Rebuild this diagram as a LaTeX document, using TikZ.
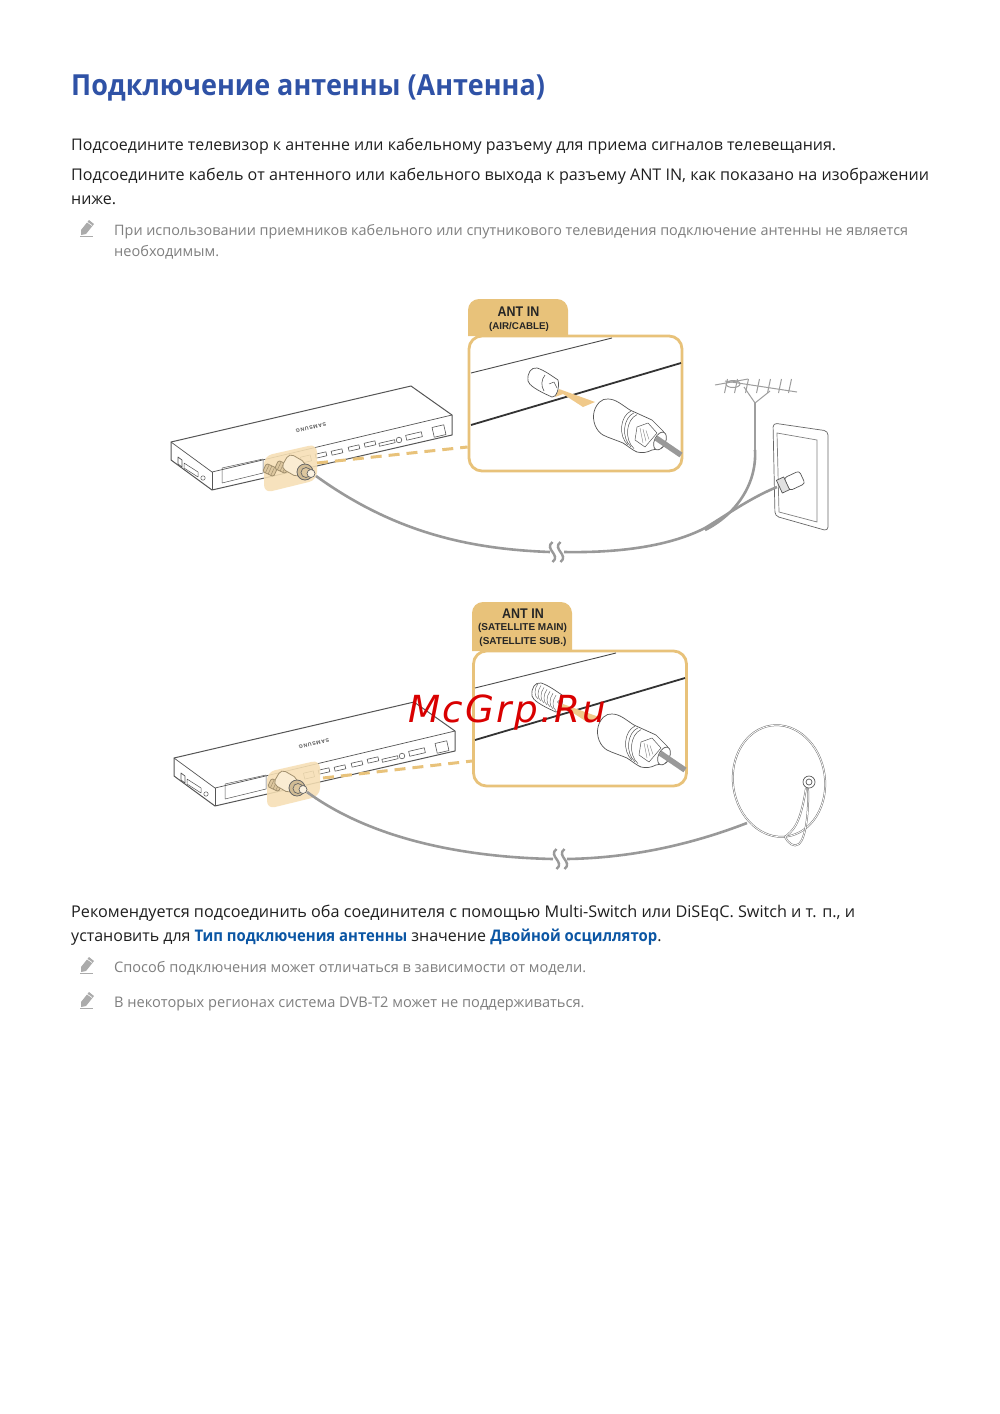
\documentclass[tikz,border=0pt]{standalone}
\usepackage{fontspec}
\setmainfont[BoldFeatures={FakeStretch=0.93}]{Open Sans}
\newfontfamily\helv{Liberation Sans}
\newfontfamily\helvn[FakeStretch=0.89]{Liberation Sans}
\newfontfamily\marca[LetterSpace=6]{DejaVu Sans}
\newfontfamily\sam[LetterSpace=14]{Liberation Sans}
\definecolor{naranja}{HTML}{E8C27A}
\definecolor{resalte}{HTML}{F6DFB4}
\definecolor{flecha}{HTML}{F0C98A}
\definecolor{cable}{HTML}{999999}
\definecolor{linea}{HTML}{555555}
\definecolor{titulo}{HTML}{2F52A6}
\definecolor{enlace}{HTML}{0B56A4}
\definecolor{gris}{HTML}{7F7F7F}
\definecolor{tostado}{HTML}{A2906E}
\begin{document}
\begin{tikzpicture} %Pagina
  [
    x=1pt, y=-1pt,
    % Estilos de textos y lineas
    tit/.style={anchor=base west, inner sep=0pt, font=\fontsize{29}{30}\selectfont\bfseries, text=titulo},
    body/.style={anchor=base west, inner sep=0pt, font=\fontsize{16}{20}\selectfont, text=black!88},
    nota/.style={anchor=base west, inner sep=0pt, font=\fontsize{14.55}{20}\selectfont, text=gris},
    tab/.style={inner sep=0pt, align=center, font=\helv\bfseries, text=black!85},
    marco/.style={draw=naranja, line width=2.8pt, rounded corners=13pt, fill=white, minimum width=213pt, minimum height=135pt, inner sep=0pt},
    punteada/.style={draw=naranja, line width=3pt, dash pattern=on 11pt off 7pt},
    cab/.style={draw=cable, line width=2.6pt},
    fino/.style={draw=linea, line width=0.7pt, line join=round},
    hilo/.style={draw=black!38, line width=1pt},
    % La caja de conexiones
    caja/.pic={
      \path[fino, line width=1pt, fill=white] (171,442) -- (411,386) -- (452,415) -- (452,435) -- (212,490) -- (171,460) -- cycle;
      \draw[fino] (171,442) -- (212,472) -- (452,415);
      \draw[fino] (212,472) -- (212,490);
      \node[rotate=193.4, inner sep=0pt, text=linea, font=\sam\bfseries\fontsize{5.2}{6}\selectfont] (marcacaja) at (311,428) {SAMSUNG};
      \draw[fino, line width=.5pt] (222,468) -- (263,459) -- (263,473) -- (222,483) -- cycle;
      \foreach \px/\py in {321/455, 337/452, 354/448, 370/444}
        \draw[fino, line width=.6pt, rotate around={13:(\px,\py)}] (\px-5.5,\py-2) rectangle (\px+5.5,\py+2);
      \draw[fino, line width=.6pt, rotate around={13:(387,443)}] (379,441.5) rectangle (395,444.5);
      \draw[fino, line width=.6pt] (399,440) circle (2.8pt);
      \draw[fino, line width=.6pt, rotate around={13:(414,436)}] (406,433.5) rectangle (422,438.5);
      \draw[fino, line width=.6pt, rotate around={13:(439,431)}] (433,426) rectangle (445,436);
      \draw[fino, line width=.6pt, rotate around={13:(306,459)}] (301,456) rectangle (311,462);
      \draw[fino, line width=.7pt] (178,457) -- (182,460) -- (182,467) -- (178,464) -- cycle;
      \draw[fino, line width=.5pt] (184,463) -- (198,472) -- (198,477) -- (184,468) -- cycle;
      \draw[fino, line width=.5pt] (203,478) circle (2.2pt);
      \fill[resalte, fill opacity=.88, rounded corners=8pt] (264,456) -- (317,444) -- (317,480) -- (264,493) -- cycle;
    },
    % Conectores sobre la zona resaltada
    fmini/.pic={
      \draw[draw=tostado, line width=.8pt, fill=resalte!70!tostado, rotate=-25, rounded corners=1.5pt] (-6,-4.5) rectangle (6,4.5);
      \foreach \k in {-3,0,3}
        \draw[draw=tostado, line width=.5pt, rotate=-25] (\k,-4.5) -- (\k,4.5);
    },
    conector/.pic={
      \draw[draw=tostado, line width=.8pt, fill=resalte!60!white, rotate=-30, rounded corners=5pt] (-23,-8.5) rectangle (-3,8.5);
      \draw[draw=black!60, line width=.8pt, fill=resalte!55!tostado] (0,0) circle (8pt);
      \draw[draw=black!60, line width=.7pt, fill=resalte!70!tostado] (1,.5) circle (5pt);
      \draw[draw=black!60, line width=.7pt, fill=resalte!40!white] (6,1.5) circle (4pt);
    },
    % Vista ampliada, toma de salida
    vista/.pic={
      \draw[draw=black!70, line width=.9pt] (471,373) -- (612,338);
      \draw[draw=black!80, line width=1.8pt] (471,425) -- (681,363);
      \fill[flecha] (555,397) -- (559,389) -- (595,402) -- (583,407) -- (563,394) -- cycle;
    },
    hembra/.pic={
      \path[fino, fill=white] (537,368) .. controls (531,367) and (527,373) .. (528,381)
        .. controls (529,385) and (536,390) .. (552,397) .. controls (556,398) and (560,388) .. (558,380)
        .. controls (552,376) and (544,370) .. (537,368) -- cycle;
    },
    tomaa/.pic={
      \draw[fino, line width=.6pt] (545,375) .. controls (541,380) and (541,386) .. (544,391);
      \draw[fino, line width=.5pt] (549,384) -- (554,382) -- (557,388);
    },
    tomab/.pic={
      \foreach \k in {0,3,...,18}
        \draw[draw=black!55, line width=.5pt] (534+\k,368.5+.65*\k) .. controls (530+\k,374+.65*\k) and (530+\k,381+.65*\k) .. (534+\k,384+.65*\k);
      \draw[fino, line width=.5pt] (555,387) circle (1.5pt);
    },
    enchufe/.pic={
      \path[fino, fill=white] (594,412) .. controls (596,404) and (602,398) .. (608,399)
        .. controls (616,399) and (622,405) .. (630,410) -- (652,420) -- (663,431)
        .. controls (667,437) and (667,444) .. (662,448) -- (652,450)
        .. controls (646,453) and (642,453) .. (637,452)
        .. controls (632,450) and (628,446) .. (623,443)
        .. controls (616,440) and (609,438) .. (603,435)
        .. controls (596,431) and (592,421) .. (594,412) -- cycle;
      \foreach \k in {0,3,6}
        \draw[fino, line width=.5pt] (631+\k,411+.6*\k) .. controls (620+\k,416+.6*\k) and (618+\k,436+.6*\k) .. (628+\k,445+.6*\k);
      \draw[fino, line width=.5pt, fill=white] (637,427) -- (648,423) -- (657,433) -- (645,447) -- (635,440) -- cycle;
      \foreach \k in {0,3,6}
        \draw[draw=black!50, line width=.4pt] (640+\k,428+.4*\k) -- (643+\k,443-.6*\k);
      \draw[fino, fill=white, rotate around={-25:(660,441)}] (660,441) ellipse (5.5pt and 9.5pt);
    },
    % Cable cortado
    corte/.pic={
      \foreach \k in {-4,4}
        \draw[draw=cable, line width=2.4pt] (\k,-10) .. controls (\k-9,-3) and (\k+9,3) .. (\k,10);
    },
    % Lapiz de las notas
    lapiz/.pic={
      \fill[black!33] (-6,7) -- (-6,2) -- (2,-8) -- (7,-4) -- (-1,6) -- cycle;
      \draw[white, line width=.6pt] (0,-6) -- (5,-2.5);
      \draw[black!33, line width=.6pt] (-7,8.5) -- (6,8.5);
    }
  ]
  \path[fill=white, use as bounding box] (0,0) rectangle (1000,1414);

  % Textos de arriba
  \node[tit] (t1) at (71,95) {Подключение антенны (Антенна)};
  \node[body] (p1) at (71,150) {Подсоедините телевизор к антенне или кабельному разъему для приема сигналов телевещания.};
  \node[body, font=\fontsize{16.12}{20}\selectfont] (p2) at (71,180.5) {Подсоедините кабель от антенного или кабельного выхода к разъему ANT IN, как показано на изображении};
  \node[body] (p3) at (71,204) {ниже.};
  \pic at (87,228) {lapiz};
  \node[nota, font=\fontsize{14.39}{20}\selectfont] (n1) at (114,235) {При использовании приемников кабельного или спутникового телевидения подключение антенны не является};
  \node[nota] (n2) at (114,256) {необходимым.};

  %Imagen 1
  \pic at (0,0) {caja};
  \coordinate (d1) at (317,463);
  \node[marco] (zoom1) at (575.5,403.5) {};
  \draw[punteada] (d1) -- (zoom1.west |- 0,447);
  \pic at (270,470) {fmini};
  \pic at (282,467) {fmini};
  \pic at (305,472) {conector};
  \fill[naranja] (468,336) [rounded corners=11pt] -- (468,299) -- (568,299) [sharp corners] -- (568,336) -- cycle;
  \node[tab, font=\helvn\bfseries\fontsize{14}{15}\selectfont] (ant1) at (518.5,312) {ANT IN};
  \node[tab, font=\helv\bfseries\fontsize{9.8}{11}\selectfont] (air1) at (519,326.5) {(AIR/CABLE)};
  \pic at (0,0) {vista};
  \pic at (0,0) {hembra};
  \pic at (0,0) {tomaa};
  \pic at (0,0) {enchufe};
  \coordinate (in1) at (656,438);
  \coordinate (in2) at (681,455);
  \draw[cab, line width=5.5pt] (in1) -- (in2);
  % Antena y pared
  \draw[hilo] (715,385) -- (748,379);
  \draw[hilo] (725,381) -- (797,392);
  \draw[hilo] (733,384) ellipse (7pt and 3.5pt);
  \foreach \ax in {726,736,747,758,769,780,790}
    \draw[hilo] (\ax+1.5,379) -- (\ax-1.5,393);
  \coordinate (ant) at (755,403);
  \draw[hilo] (744,387) -- (ant) -- (770,391);
  \coordinate (m1) at (755,450);
  \draw[hilo, line width=1.3pt] (ant) -- (m1);
  \path[fino, draw=black!60, fill=white, rounded corners=4pt] (773,423) -- (828,431) -- (828,531) -- (775,516) -- cycle;
  \draw[draw=black!50, line width=.7pt] (777,433) -- (817,440) -- (817,522) -- (779,512) -- cycle;
  \coordinate (wall) at (777,487);
  \coordinate (c1) at (316,476);
  \coordinate (c2) at (550,552);
  \coordinate (c3) at (564,552);
  \coordinate (c4) at (705,530);
  \draw[cab] (c1) .. controls (395,533) and (470,549) .. (c2);
  \draw[cab] (c3) .. controls (620,553) and (670,546) .. (705,528) .. controls (725,516) and (750,498) .. (wall);
  \draw[cab] (m1) .. controls (757,485) and (735,515) .. (c4);
  \pic at (556.5,552) {corte};
  \draw[fino, line width=.7pt, fill=white, rounded corners=3pt, rotate around={25:(794,481)}] (786,474) rectangle (803,488);
  \draw[fino, fill=black!12, rotate around={25:(783,485)}] (779,478) rectangle (787,492);

  %Imagen 2
  \begin{scope}[shift={(3,316)}]
    \pic at (0,0) {caja};
  \end{scope}
  \coordinate (d2) at (323,778);
  \node[marco] (zoom2) at (580,718.5) {};
  \draw[punteada] (d2) -- (zoom2.west |- 0,761);
  \pic at (275,785) {fmini};
  \pic at (297,788) {conector};
  \fill[naranja] (472,651) [rounded corners=11pt] -- (472,602) -- (572,602) [sharp corners] -- (572,651) -- cycle;
  \node[tab, font=\helvn\bfseries\fontsize{14}{15}\selectfont] (ant2) at (523,613.5) {ANT IN};
  \node[tab, font=\helv\bfseries\fontsize{10}{11}\selectfont] (sat1) at (522.5,628) {(SATELLITE MAIN)};
  \node[tab, font=\helv\bfseries\fontsize{10}{11}\selectfont] (sat2) at (523,642) {(SATELLITE SUB.)};
  \begin{scope}[shift={(4,315)}]
    \pic at (0,0) {vista};
    \pic at (0,0) {hembra};
    \pic at (0,0) {tomab};
    \pic at (0,0) {enchufe};
    \coordinate (in3) at (656,438);
    \coordinate (in4) at (681,455);
  \end{scope}
  \draw[cab, line width=5.5pt] (in3) -- (in4);
  % Antena parabolica
  \draw[draw=black!55, line width=1.8pt, rotate around={8:(779,781)}] (779,781) ellipse (46pt and 56pt);
  \draw[draw=white, line width=.8pt, rotate around={8:(779,781)}] (779,781) ellipse (46pt and 56pt);
  \draw[draw=black!55, line width=1.8pt] (808,788) .. controls (809,810) and (806,838) .. (799,844) .. controls (794,848) and (788,843) .. (785,837) .. controls (793,830) and (800,826) .. (806,788);
  \draw[draw=white, line width=.8pt] (808,788) .. controls (809,810) and (806,838) .. (799,844) .. controls (794,848) and (788,843) .. (785,837) .. controls (793,830) and (800,826) .. (806,788);
  \draw[fino, fill=white] (809,782) circle (6pt);
  \draw[fino, fill=white] (809,782) circle (3pt);
  \coordinate (e1) at (307,792);
  \coordinate (e2) at (553,859);
  \coordinate (e3) at (567,859);
  \coordinate (dish) at (747,823);
  \draw[cab] (e1) .. controls (370,838) and (460,857) .. (e2);
  \draw[cab] (e3) .. controls (630,858) and (690,845) .. (dish);
  \pic at (560.5,859) {corte};

  %Marca
  \node[inner sep=0pt, anchor=base west, text=red!85!black, font=\marca\itshape\fontsize{37.3}{38}\selectfont] (wm) at (408,722) {McGrp.Ru};

  % Textos de abajo
  \node[body, font=\fontsize{16.2}{20}\selectfont] (p4) at (71,917) {Рекомендуется подсоединить оба соединителя с помощью Multi-Switch или DiSEqC. Switch и т. п., и};
  \node[body] (p5) at (71,941) {установить для \textcolor{enlace}{\bfseries Тип подключения антенны} значение \textcolor{enlace}{\bfseries Двойной осциллятор}.};
  \pic at (87,965) {lapiz};
  \node[nota] (n3) at (114,972) {Способ подключения может отличаться в зависимости от модели.};
  \pic at (87,1000) {lapiz};
  \node[nota, font=\fontsize{14.62}{20}\selectfont] (n4) at (114,1007) {В некоторых регионах система DVB-T2 может не поддерживаться.};
\end{tikzpicture}
\end{document}
